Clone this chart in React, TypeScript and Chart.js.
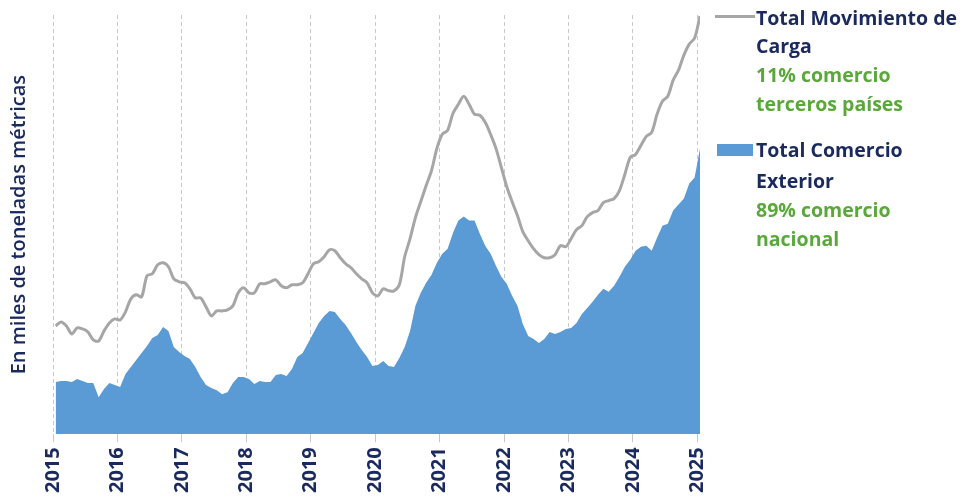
import React, { useEffect, useRef } from "react";
import { Chart, registerables } from "chart.js";

Chart.register(...registerables);

// Years shown on the x axis (one tick per January)
const yearLabels = ["2015", "2016", "2017", "2018", "2019", "2020", "2021", "2022", "2023", "2024", "2025"];

// Monthly series, Jan 2015 .. Jan 2025 (relative units)
const totalMovimientoCarga = [
  108, 112, 108, 100, 106, 105, 102, 94, 93, 103, 111, 115,
  114, 122, 135, 139, 137, 158, 160, 169, 171, 167, 155, 152,
  151, 145, 136, 136, 127, 118, 123, 123, 124, 128, 141, 146,
  141, 141, 150, 150, 152, 154, 148, 146, 149, 149, 151, 160,
  170, 172, 177, 184, 183, 176, 170, 166, 160, 155, 151, 141,
  138, 145, 143, 143, 149, 177, 195, 216, 232, 248, 263, 285,
  299, 303, 320, 329, 337, 329, 319, 318, 311, 299, 285, 266,
  247, 232, 218, 202, 193, 185, 179, 176, 176, 179, 188, 187,
  195, 204, 208, 217, 221, 223, 231, 233, 235, 243, 259, 276,
  279, 288, 297, 301, 319, 332, 337, 353, 363, 378, 389, 395,
  417,
];

const totalComercioExterior = [
  52, 53, 53, 52, 55, 53, 51, 51, 37, 45, 51, 49,
  47, 60, 67, 74, 81, 88, 96, 99, 107, 103, 87, 82,
  78, 75, 67, 57, 49, 46, 44, 40, 42, 51, 57, 57,
  55, 50, 53, 52, 52, 59, 60, 58, 65, 77, 81, 91,
  101, 111, 118, 123, 122, 115, 109, 101, 92, 84, 77, 68,
  69, 73, 68, 67, 76, 87, 103, 128, 141, 151, 159, 171,
  180, 185, 201, 213, 217, 213, 213, 200, 188, 180, 168, 157,
  150, 138, 128, 110, 98, 95, 91, 95, 102, 100, 102, 105,
  106, 111, 120, 126, 132, 139, 145, 142, 148, 157, 167, 174,
  183, 187, 188, 183, 196, 208, 210, 223, 229, 235, 250, 256,
  285,
];

const NAVY = "#1b2a5e";
const GREEN = "#5aa83a";
const BLUE = "#5b9bd5";
const GRAY = "#a6a6a6";
const FONT = "'Open Sans', Lato, sans-serif";

export default function App() {
  const canvasRef = useRef<HTMLCanvasElement | null>(null);

  useEffect(() => {
    const canvas = canvasRef.current;
    if (!canvas) return;
    const chart = new Chart(canvas, {
      type: "line",
      data: {
        datasets: [
          {
            label: "Total Movimiento de Carga",
            data: totalMovimientoCarga.map((v, i) => ({ x: i, y: v })),
            borderColor: GRAY,
            borderWidth: 3,
            pointRadius: 0,
            tension: 0.3,
            fill: false,
          },
          {
            label: "Total Comercio Exterior",
            data: totalComercioExterior.map((v, i) => ({ x: i, y: v })),
            borderWidth: 0,
            borderColor: BLUE,
            backgroundColor: BLUE,
            pointRadius: 0,
            tension: 0,
            fill: "origin",
          },
        ],
      },
      options: {
        animation: false,
        responsive: false,
        layout: { padding: { left: 0, right: 263, top: 15, bottom: 2 } },
        plugins: { legend: { display: false }, tooltip: { enabled: false } },
        scales: {
          x: {
            type: "linear",
            min: -0.5,
            max: 120,
            afterBuildTicks: (s: any) => {
              s.ticks = yearLabels.map((_, k) => ({ value: k * 12 - 0.5 }));
            },
            ticks: {
              autoSkip: false,
              maxRotation: 90,
              minRotation: 90,
              color: NAVY,
              padding: 5,
              font: { family: FONT, size: 20, weight: "bold" },
              callback: (v: any) => yearLabels[Math.round((Number(v) + 0.5) / 12)] ?? "",
            },
            grid: { color: "#c8c8c8", lineWidth: 1, tickLength: 8, tickColor: "#c8c8c8" },
            border: { display: false, dash: [4, 3] },
          },
          y: {
            min: 0,
            max: 418,
            ticks: { display: false },
            grid: { display: false },
            border: { display: false },
            title: {
              display: true,
              text: "En miles de toneladas métricas",
              color: NAVY,
              font: { family: FONT, size: 20, weight: "600" },
              padding: { top: 7, bottom: 0 },
            },
            afterFit: (s: any) => {
              s.width = 53;
            },
          },
        },
      },
    });
    return () => chart.destroy();
  }, []);

  const lineStyle: React.CSSProperties = {
    position: "absolute",
    left: 756,
    fontFamily: FONT,
    fontWeight: 700,
    fontSize: 19.5,
    lineHeight: "22px",
    whiteSpace: "nowrap",
  };

  return (
    <div style={{ position: "absolute", left: 0, top: 0, width: 963, height: 500, background: "#fff" }}>
      <canvas ref={canvasRef} width={963} height={500} style={{ display: "block" }} />
      <div style={{ position: "absolute", left: 715, top: 15, width: 40, height: 3, background: GRAY }} />
      <div style={{ ...lineStyle, top: 7, color: NAVY }}>Total Movimiento de</div>
      <div style={{ ...lineStyle, top: 35, color: NAVY }}>Carga</div>
      <div style={{ ...lineStyle, top: 64, color: GREEN }}>11% comercio</div>
      <div style={{ ...lineStyle, top: 93, color: GREEN }}>terceros países</div>
      <div style={{ position: "absolute", left: 717, top: 144, width: 36, height: 12, background: BLUE }} />
      <div style={{ ...lineStyle, top: 139, color: NAVY }}>Total Comercio</div>
      <div style={{ ...lineStyle, top: 170, color: NAVY }}>Exterior</div>
      <div style={{ ...lineStyle, top: 199, color: GREEN }}>89% comercio</div>
      <div style={{ ...lineStyle, top: 228, color: GREEN }}>nacional</div>
    </div>
  );
}
